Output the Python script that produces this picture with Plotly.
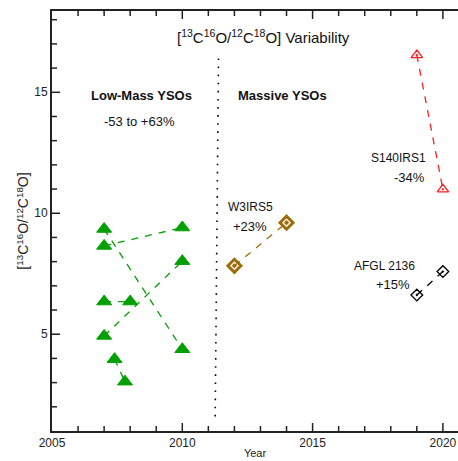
import plotly.graph_objects as go

# Low-mass YSO pairs (year, ratio)
low_pairs_x = [[2007, 2010], [2007, 2010], [2007, 2010], [2007, 2008], [2007.4, 2007.8]]
low_pairs_y = [[9.35, 4.38], [8.65, 9.41], [4.93, 8.02], [6.35, 6.35], [3.97, 3.04]]

w3_x = [2012, 2014]
w3_y = [7.83, 9.61]

s140_x = [2019, 2020]
s140_y = [16.54, 10.99]

afgl_x = [2019, 2020]
afgl_y = [6.62, 7.59]

divider_x = [2011.39, 2011.26]
divider_y = [16.4, 1.4]

x_range = [2005, 2020.58]
y_range = [1.0, 18.36]
x_ticks = [2005, 2010, 2015, 2020]
y_ticks = [5, 10, 15]

GREEN = "rgb(0,160,0)"
BROWN = "rgb(160,108,8)"
RED = "rgb(255,30,30)"
BLACK = "black"
AX = "#222"
FONT = "Liberation Sans, Arial, Helvetica, sans-serif"

W, H = 458, 461
ML, MR, MT, MB = 52, 0, 11, 30
PW, PH = W - ML - MR, H - MT - MB
xpp = (x_range[1] - x_range[0]) / PW   # data units per pixel
ypp = (y_range[1] - y_range[0]) / PH

fig = go.Figure()

# axis tick marks (inside), built from the axis ranges
tx, ty = [], []
for yr in range(2006, 2021):
    ln = (8 if yr in x_ticks else 5) * ypp
    tx += [yr, yr, None, yr, yr, None]
    ty += [y_range[0], y_range[0] + ln, None, y_range[1], y_range[1] - ln, None]
for v in range(2, 19):
    ln = (8 if v in y_ticks else 5) * xpp
    tx += [x_range[0], x_range[0] + ln, None]
    ty += [v, v, None]
fig.add_trace(go.Scatter(x=tx, y=ty, mode="lines", line=dict(color=AX, width=1.5),
                         showlegend=False, hoverinfo="skip", cliponaxis=False))

for xs, ys in zip(low_pairs_x, low_pairs_y):
    fig.add_trace(go.Scatter(
        x=xs, y=ys, mode="lines",
        line=dict(color=GREEN, width=1.3, dash="7px,7px"),
        showlegend=False, hoverinfo="skip"))
    fig.add_trace(go.Scatter(
        x=xs, y=ys, mode="markers",
        marker=dict(symbol="triangle-up", size=13, color=GREEN,
                    line=dict(color=GREEN, width=1)),
        showlegend=False))

fig.add_trace(go.Scatter(x=w3_x, y=w3_y, mode="lines",
                         line=dict(color=BROWN, width=1.3, dash="7px,7px"),
                         showlegend=False))
fig.add_trace(go.Scatter(x=w3_x, y=w3_y, mode="markers",
                         marker=dict(symbol="diamond-open-dot", size=10, color=BROWN,
                                     line=dict(color=BROWN, width=3)),
                         showlegend=False))

fig.add_trace(go.Scatter(x=s140_x, y=s140_y, mode="lines",
                         line=dict(color=RED, width=1.3, dash="7px,7px"),
                         showlegend=False))
fig.add_trace(go.Scatter(x=s140_x, y=s140_y, mode="markers",
                         marker=dict(symbol="triangle-up-open-dot", size=10, color=RED,
                                     line=dict(color=RED, width=1.3)),
                         showlegend=False))

fig.add_trace(go.Scatter(x=afgl_x, y=afgl_y, mode="lines",
                         line=dict(color=BLACK, width=1.3, dash="7px,7px"),
                         showlegend=False))
fig.add_trace(go.Scatter(x=afgl_x, y=afgl_y, mode="markers",
                         marker=dict(symbol="diamond-open-dot", size=9, color=BLACK,
                                     line=dict(color=BLACK, width=1.3)),
                         showlegend=False))

fig.add_shape(type="line", x0=divider_x[0], y0=divider_y[0], x1=divider_x[1], y1=divider_y[1],
              line=dict(color="black", width=1.6, dash="1.6px,6.5px"))

annos = [
    (2013.1, 17.3, "[<sup>13</sup>C<sup>16</sup>O/<sup>12</sup>C<sup>18</sup>O] Variability", 15, False),
    (2008.45, 14.85, "Low-Mass YSOs", 13, True),
    (2008.35, 13.8, "-53 to +63%", 13, False),
    (2013.85, 14.85, "Massive YSOs", 13, True),
    (2012.6, 10.25, "W3IRS5", 12, False),
    (2012.6, 9.45, "+23%", 13, False),
    (2018.3, 12.3, "S140IRS1", 12, False),
    (2018.7, 11.48, "-34%", 13, False),
    (2017.75, 7.8, "AFGL 2136", 12, False),
    (2018.1, 7.05, "+15%", 13, False),
]
for x, y, t, s, b in annos:
    fig.add_annotation(x=x, y=y, text=("<b>%s</b>" % t) if b else t, showarrow=False,
                       font=dict(size=s, color="#111", family=FONT),
                       xanchor="center", yanchor="middle")

fig.update_layout(
    width=W, height=H,
    margin=dict(l=ML, r=MR, t=MT, b=MB, autoexpand=False),
    plot_bgcolor="white", paper_bgcolor="white",
    font=dict(family=FONT, color=AX),
)
fig.update_xaxes(
    range=x_range, showgrid=False, zeroline=False,
    showline=True, linecolor=AX, linewidth=1.8, mirror=True,
    ticks="", tickmode="array", tickvals=x_ticks, tickfont=dict(size=12, color=AX),
    title=dict(text="Year", font=dict(size=11, color=AX), standoff=0),
    automargin=False,
)
fig.update_yaxes(
    range=y_range, showgrid=False, zeroline=False,
    showline=True, linecolor=AX, linewidth=1.8,
    ticks="", tickmode="array", tickvals=y_ticks, tickfont=dict(size=12, color=AX),
    title=dict(text="[<sup>13</sup>C<sup>16</sup>O/<sup>12</sup>C<sup>18</sup>O]",
               font=dict(size=14, color=AX), standoff=2),
    automargin=False,
)

fig.write_html("out.html", config={"displayModeBar": False},
               post_script="document.body.style.margin='0';document.body.style.padding='0';")
